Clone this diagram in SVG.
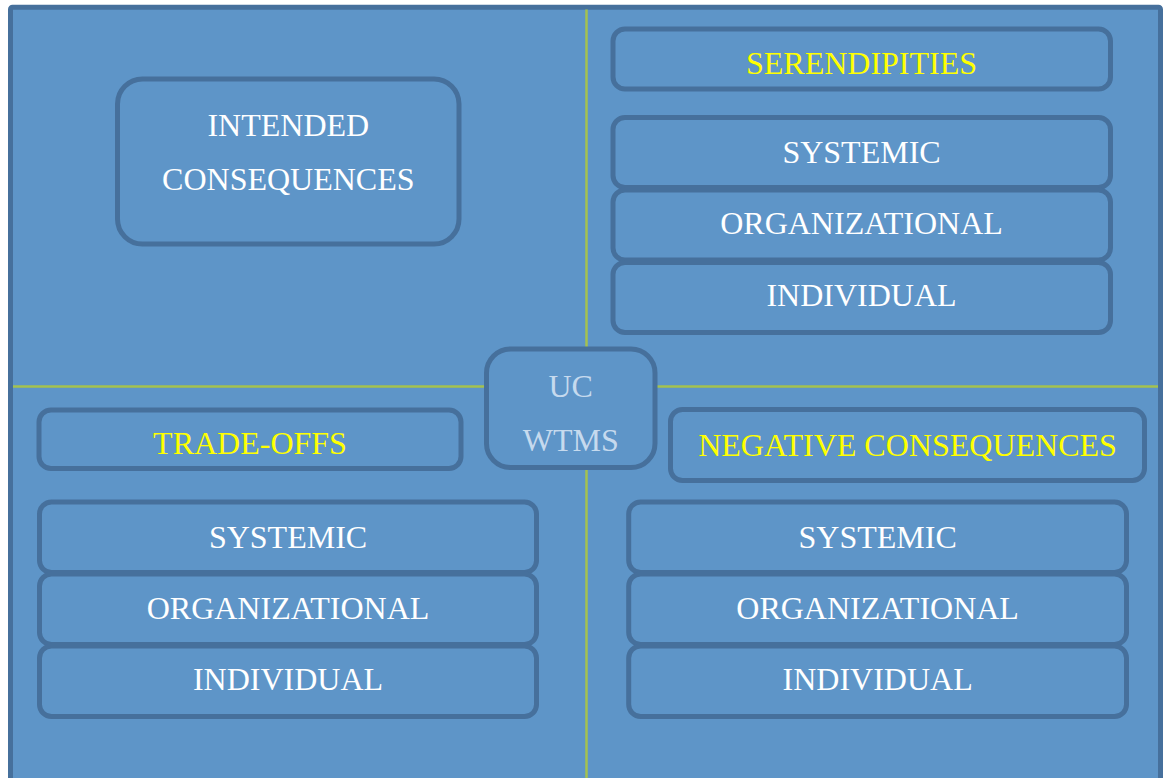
<svg xmlns="http://www.w3.org/2000/svg" width="1170" height="778" viewBox="0 0 1170 778">
  <style>
    .frame { fill: #5e95c8; stroke: #46709c; stroke-width: 5; }
    .box { fill: #5e95c8; stroke: #46709c; stroke-width: 5; }
    .divider { stroke: #a5c24f; stroke-width: 2.5; fill: none; }
    .label { font-family: "Liberation Serif", "Times New Roman", serif; font-size: 32px; text-anchor: middle; fill: #ffffff; }
    .head { fill: #ffff00; }
    .core { fill: #c6daee; }
  </style>

  <rect x="0" y="0" width="1170" height="778" fill="#ffffff"/>
  <!-- outer panel -->
  <rect class="frame" x="10.5" y="7.25" width="1150" height="790" rx="2"/>

  <!-- quadrant dividers -->
  <g id="connectors">
    <line class="divider" x1="13" y1="386.5" x2="1158" y2="386.5"/>
    <line class="divider" x1="586.5" y1="9.5" x2="586.5" y2="778"/>
  </g>

  <!-- top-left quadrant -->
  <g id="intended-consequences">
    <rect class="box" x="117.5" y="79" width="341.5" height="165" rx="25"/>
    <text class="label" x="288.3" y="136">INTENDED</text>
    <text class="label" x="288.3" y="190">CONSEQUENCES</text>
  </g>

  <!-- top-right quadrant -->
  <g id="serendipities">
    <rect class="box" x="613" y="29" width="497.5" height="60" rx="12"/>
    <text class="label head" x="861.5" y="74">SERENDIPITIES</text>
  </g>
  <g id="serendipities-systemic">
    <rect class="box" x="613" y="117.5" width="497.5" height="70" rx="12"/>
    <text class="label" x="861.5" y="163">SYSTEMIC</text>
  </g>
  <g id="serendipities-organizational">
    <rect class="box" x="613" y="190" width="497.5" height="70" rx="12"/>
    <text class="label" x="861.5" y="234">ORGANIZATIONAL</text>
  </g>
  <g id="serendipities-individual">
    <rect class="box" x="613" y="262.5" width="497.5" height="70" rx="12"/>
    <text class="label" x="861.5" y="306">INDIVIDUAL</text>
  </g>

  <!-- bottom-left quadrant -->
  <g id="trade-offs">
    <rect class="box" x="39" y="410" width="422" height="58.5" rx="12"/>
    <text class="label head" x="250" y="454">TRADE-OFFS</text>
  </g>
  <g id="trade-offs-systemic">
    <rect class="box" x="39.5" y="502" width="497" height="70.5" rx="12"/>
    <text class="label" x="288" y="548">SYSTEMIC</text>
  </g>
  <g id="trade-offs-organizational">
    <rect class="box" x="39.5" y="574" width="497" height="70.5" rx="12"/>
    <text class="label" x="288" y="619">ORGANIZATIONAL</text>
  </g>
  <g id="trade-offs-individual">
    <rect class="box" x="39.5" y="646" width="497" height="70.5" rx="12"/>
    <text class="label" x="288" y="690">INDIVIDUAL</text>
  </g>

  <!-- bottom-right quadrant -->
  <g id="negative-consequences">
    <rect class="box" x="670.5" y="409.5" width="474" height="71" rx="12"/>
    <text class="label head" x="907.5" y="456">NEGATIVE CONSEQUENCES</text>
  </g>
  <g id="negative-systemic">
    <rect class="box" x="628.7" y="502" width="497.8" height="70.5" rx="12"/>
    <text class="label" x="877.6" y="548">SYSTEMIC</text>
  </g>
  <g id="negative-organizational">
    <rect class="box" x="628.7" y="574" width="497.8" height="70.5" rx="12"/>
    <text class="label" x="877.6" y="619">ORGANIZATIONAL</text>
  </g>
  <g id="negative-individual">
    <rect class="box" x="628.7" y="646" width="497.8" height="70.5" rx="12"/>
    <text class="label" x="877.6" y="690">INDIVIDUAL</text>
  </g>

  <!-- centre hub -->
  <g id="uc-wtms">
    <rect class="box" x="486.5" y="349" width="168.5" height="118.5" rx="24"/>
    <text class="label core" x="570.7" y="396.7">UC</text>
    <text class="label core" x="570.7" y="450.7">WTMS</text>
  </g>
</svg>
